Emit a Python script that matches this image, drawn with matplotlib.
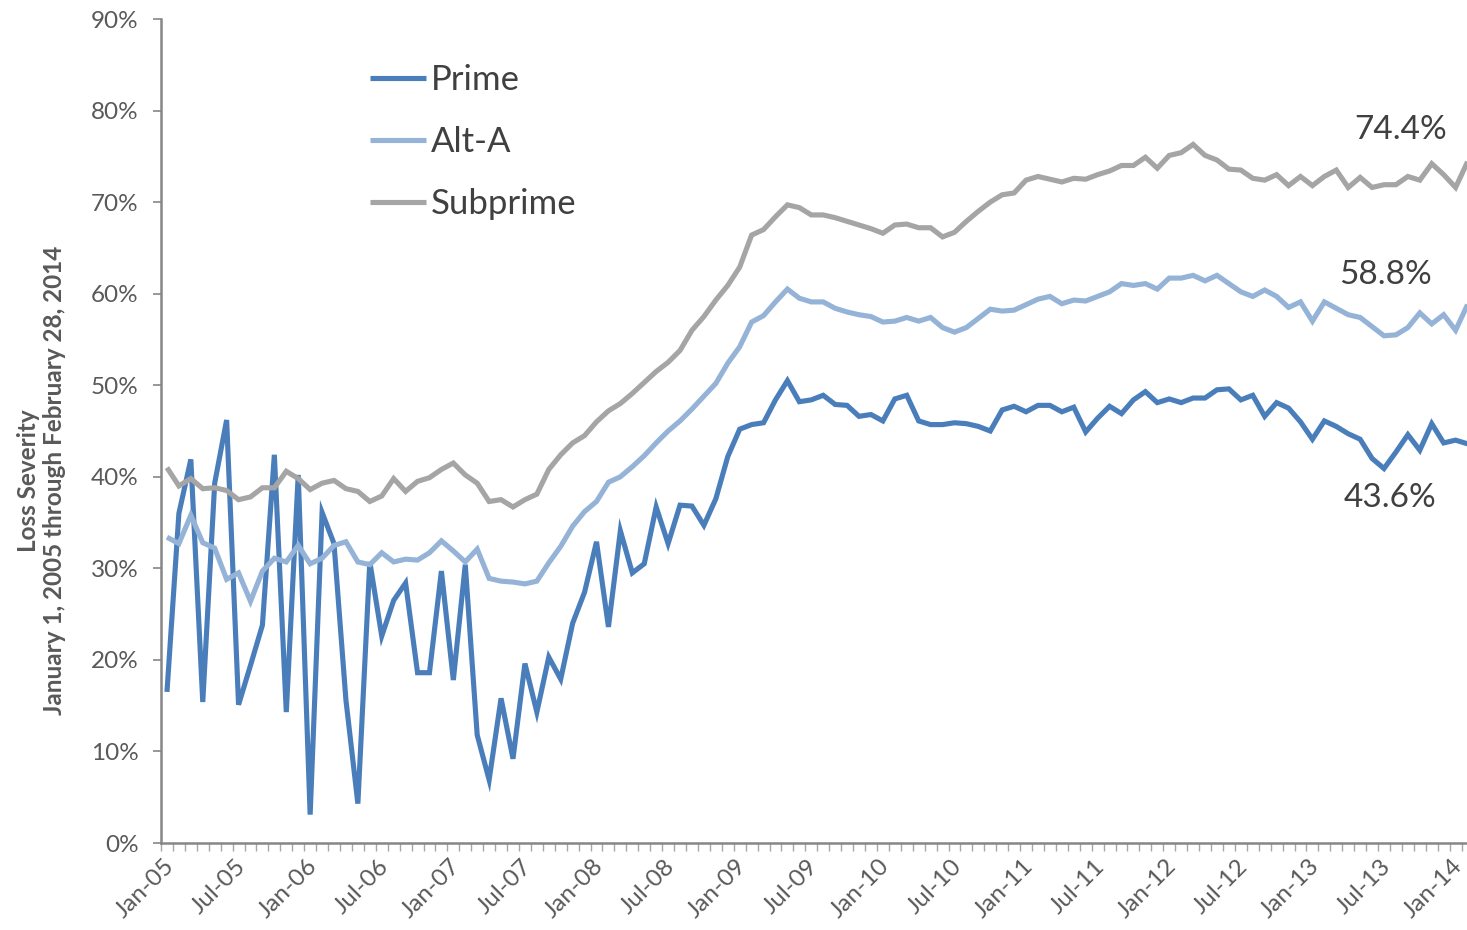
import numpy as np
import pandas as pd
import matplotlib
matplotlib.use('Agg')
import matplotlib.pyplot as plt
from matplotlib.ticker import FixedLocator, FuncFormatter
from matplotlib.transforms import ScaledTranslation

# Monthly loss severity (%), Jan 2005 .. Feb 2014
months = pd.date_range('2005-01-01', periods=110, freq='MS')

prime = [16.5, 36.0, 41.9, 15.4, 39.3, 46.2, 15.1, 19.4, 23.8, 42.4,
         14.3, 40.2, 3.1, 36.1, 32.7, 15.6, 4.3, 30.7, 22.6, 26.5,
         28.4, 18.6, 18.6, 29.7, 17.8, 30.4, 11.8, 6.9, 15.8, 9.2,
         19.6, 14.3, 20.3, 17.9, 24.0, 27.4, 32.9, 23.6, 34.1, 29.5,
         30.5, 36.7, 32.7, 36.9, 36.8, 34.7, 37.6, 42.2, 45.2, 45.7,
         45.9, 48.4, 50.5, 48.2, 48.4, 48.9, 47.9, 47.8, 46.6, 46.8,
         46.1, 48.5, 48.9, 46.1, 45.7, 45.7, 45.9, 45.8, 45.5, 45.0,
         47.3, 47.7, 47.1, 47.8, 47.8, 47.1, 47.6, 44.9, 46.4, 47.7,
         46.9, 48.4, 49.3, 48.1, 48.5, 48.1, 48.6, 48.6, 49.5, 49.6,
         48.4, 48.9, 46.6, 48.1, 47.5, 46.0, 44.1, 46.1, 45.5, 44.7,
         44.1, 42.0, 40.9, 42.7, 44.6, 42.9, 45.8, 43.7, 44.0, 43.6]

alt_a = [33.4, 32.7, 35.8, 32.8, 32.2, 28.8, 29.5, 26.4, 29.7, 31.1,
         30.7, 32.5, 30.5, 31.1, 32.5, 32.9, 30.7, 30.4, 31.7, 30.7,
         31.0, 30.9, 31.7, 33.0, 31.9, 30.7, 32.1, 28.9, 28.6, 28.5,
         28.3, 28.6, 30.6, 32.4, 34.6, 36.2, 37.3, 39.4, 40.0, 41.1,
         42.3, 43.7, 45.0, 46.1, 47.4, 48.8, 50.2, 52.4, 54.2, 56.9,
         57.6, 59.1, 60.5, 59.5, 59.1, 59.1, 58.4, 58.0, 57.7, 57.5,
         56.9, 57.0, 57.4, 57.0, 57.4, 56.3, 55.8, 56.3, 57.3, 58.3,
         58.1, 58.2, 58.8, 59.4, 59.7, 58.9, 59.3, 59.2, 59.7, 60.2,
         61.1, 60.9, 61.1, 60.5, 61.7, 61.7, 62.0, 61.4, 62.0, 61.1,
         60.2, 59.7, 60.4, 59.7, 58.5, 59.1, 57.0, 59.1, 58.4, 57.7,
         57.4, 56.4, 55.4, 55.5, 56.3, 57.9, 56.7, 57.7, 56.0, 58.8]

subprime = [41.0, 39.0, 39.8, 38.7, 38.8, 38.5, 37.5, 37.8, 38.8, 38.8,
            40.6, 39.8, 38.6, 39.3, 39.6, 38.7, 38.4, 37.3, 37.9, 39.8,
            38.4, 39.5, 39.9, 40.8, 41.5, 40.2, 39.3, 37.3, 37.5, 36.7,
            37.5, 38.1, 40.8, 42.4, 43.7, 44.5, 46.0, 47.2, 48.0, 49.1,
            50.3, 51.5, 52.5, 53.8, 56.0, 57.5, 59.3, 60.9, 62.9, 66.4,
            67.0, 68.4, 69.7, 69.4, 68.6, 68.6, 68.3, 67.9, 67.5, 67.1,
            66.6, 67.5, 67.6, 67.2, 67.2, 66.2, 66.7, 67.9, 69.0, 70.0,
            70.8, 71.0, 72.4, 72.8, 72.5, 72.2, 72.6, 72.5, 73.0, 73.4,
            74.0, 74.0, 74.9, 73.7, 75.1, 75.4, 76.3, 75.1, 74.6, 73.6,
            73.5, 72.6, 72.4, 73.0, 71.8, 72.8, 71.8, 72.8, 73.5, 71.6,
            72.7, 71.6, 71.9, 71.9, 72.8, 72.4, 74.2, 73.0, 71.6, 74.4]

series = [('Prime', prime, '#4a7ebb'),
          ('Alt-A', alt_a, '#95b3d7'),
          ('Subprime', subprime, '#a5a5a5')]

plt.rcParams['font.family'] = ['Lato', 'DejaVu Sans']
tick_grey = '#595959'
axis_grey = '#868686'
text_grey = '#404040'

fig = plt.figure(figsize=(14.67, 9.3), dpi=100)
ax = fig.add_axes([161 / 1467, 87 / 930, 1312.5 / 1467, 824 / 930])

x = np.arange(len(months))
for name, vals, color in series:
    ax.plot(x, vals, color=color, lw=3.7, label=name,
            solid_joinstyle='miter', solid_capstyle='butt')

ax.set_xlim(-0.5, len(months) - 0.5)
ax.set_ylim(0, 90)

# y axis
ax.set_yticks(np.arange(0, 91, 10))
ax.yaxis.set_major_formatter(FuncFormatter(lambda v, p: f'{v:.0f}%'))
ax.tick_params(axis='y', direction='out', length=6, width=1.2,
               color=axis_grey, labelsize=17.5, labelcolor=tick_grey, pad=10)

# x axis: month boundaries as ticks, labels every 6 months
label_idx = list(range(0, len(months), 6))
ax.xaxis.set_major_locator(FixedLocator(label_idx))
ax.set_xticklabels([months[i].strftime('%b-%y') for i in label_idx],
                   rotation=45, ha='right', rotation_mode='anchor')
ax.xaxis.set_minor_locator(FixedLocator(np.arange(-0.5, len(months), 1.0)))
ax.tick_params(axis='x', which='major', length=0, labelsize=17.5,
               labelcolor=tick_grey, pad=9)
ax.tick_params(axis='x', which='minor', direction='out', length=6,
               width=1.0, color='#a6a6a6')
# nudge the slanted labels a little to the left
shift = ScaledTranslation(-4 / 100, 0, fig.dpi_scale_trans)
for lbl in ax.get_xticklabels():
    lbl.set_transform(lbl.get_transform() + shift)

for side in ('top', 'right'):
    ax.spines[side].set_visible(False)
for side in ('left', 'bottom'):
    ax.spines[side].set_color(axis_grey)
    ax.spines[side].set_linewidth(1.8)

ax.set_ylabel('Loss Severity\nJanuary 1, 2005 through February 28, 2014',
              fontsize=17.5, fontweight='bold', color=tick_grey,
              linespacing=1.2)
ax.yaxis.set_label_coords(-0.072, 0.44)

leg = ax.legend(loc='upper left', bbox_to_anchor=(0.149, 0.962), frameon=False,
                fontsize=25, handlelength=1.6, handletextpad=0.15,
                labelspacing=0.86, borderaxespad=0)
for t in leg.get_texts():
    t.set_color(text_grey)

# end-of-series value labels
ax.text(103.4, subprime[-1] + 3.5, f'{subprime[-1]:.1f}%', fontsize=24,
        color=text_grey, ha='center', va='center')
ax.text(102.1, alt_a[-1] + 3.2, f'{alt_a[-1]:.1f}%', fontsize=24,
        color=text_grey, ha='center', va='center')
ax.text(102.5, prime[-1] - 5.9, f'{prime[-1]:.1f}%', fontsize=24,
        color=text_grey, ha='center', va='center')

fig.savefig('out.png', dpi=100)
